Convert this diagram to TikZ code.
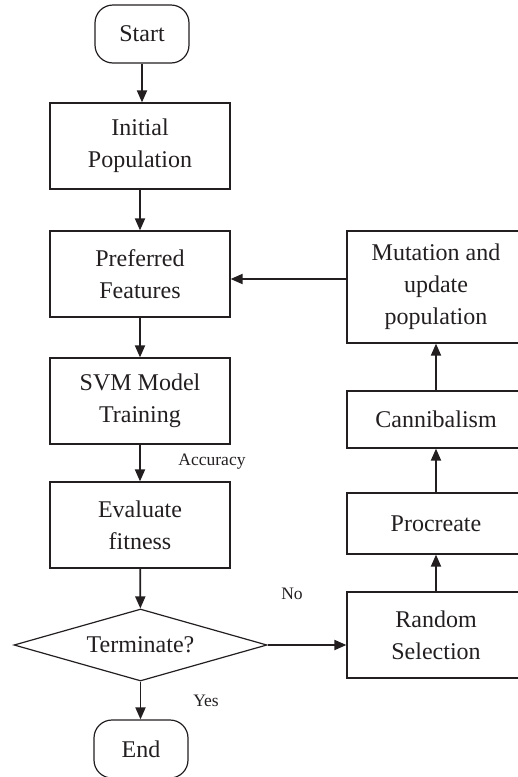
\documentclass[tikz,border=0pt]{standalone}
\usepackage{fontspec}
\setmainfont{Liberation Serif}
\usetikzlibrary{shapes.geometric,arrows.meta}
\definecolor{ink}{HTML}{231F20}
\begin{document}
\begin{tikzpicture}[x=1pt,y=-1pt,
  every node/.style={text=ink},
  box/.style={draw=ink,line width=1.2pt,rectangle,minimum width=180pt,align=center,inner sep=0pt,
    font=\fontsize{24}{32}\selectfont},
  rbox/.style={box,minimum width=178pt},
  term/.style={draw=ink,line width=1.2pt,rectangle,rounded corners=18pt,minimum width=94pt,minimum height=58pt,
    font=\fontsize{24}{32}\selectfont},
  dec/.style={draw=ink,line width=1.2pt,diamond,aspect=3.5,inner sep=0pt,minimum width=253pt,minimum height=72pt,
    font=\fontsize{24}{32}\selectfont},
  lab/.style={font=\fontsize{17.5}{20}\selectfont,inner sep=0pt},
  arr/.style={draw=ink,line width=1.8pt,-{Triangle[length=12pt,width=10pt]}}
]
\useasboundingbox (0,0) rectangle (518,777);
\node[term] (start) at (142,34) {Start};
\node[box,minimum height=86pt] (init) at (140,146) {Initial\\Population};
\node[box,minimum height=86pt] (pref) at (140,274) {Preferred\\Features};
\node[box,minimum height=86pt] (svm) at (140,401) {SVM Model\\Training};
\node[box,minimum height=86pt] (eval) at (140,525) {Evaluate\\fitness};
\node[dec] (dec) at (140.5,645) {Terminate?};
\node[term] (end) at (141,749) {End};
\node[rbox,minimum height=86pt] (rand) at (436,635) {Random\\Selection};
\node[rbox,minimum height=61pt] (proc) at (436,523.5) {Procreate};
\node[rbox,minimum height=57pt] (cann) at (436,419.5) {Cannibalism};
\node[rbox,minimum height=112pt] (mut) at (436,287) {Mutation and\\update\\population};
\node[lab] (acc) at (212,462) {Accuracy};
\node[lab] (no) at (292,594) {No};
\node[lab] (yes) at (206,701) {Yes};
\draw[arr] (start.south) -- (start.south |- init.north);
\draw[arr] (init) -- (pref);
\draw[arr] (pref) -- (svm);
\draw[arr] (svm) -- (eval);
\draw[arr] (eval) -- (dec);
\draw[arr] (dec.south) -- (dec.south |- end.north);
\draw[arr] (dec.east) -- (dec.east -| rand.west);
\draw[arr] (rand) -- (proc);
\draw[arr] (proc) -- (cann);
\draw[arr] (cann) -- (mut);
\draw[arr] (mut.west |- 0,279) -- (pref.east |- 0,279);
\end{tikzpicture}
\end{document}
